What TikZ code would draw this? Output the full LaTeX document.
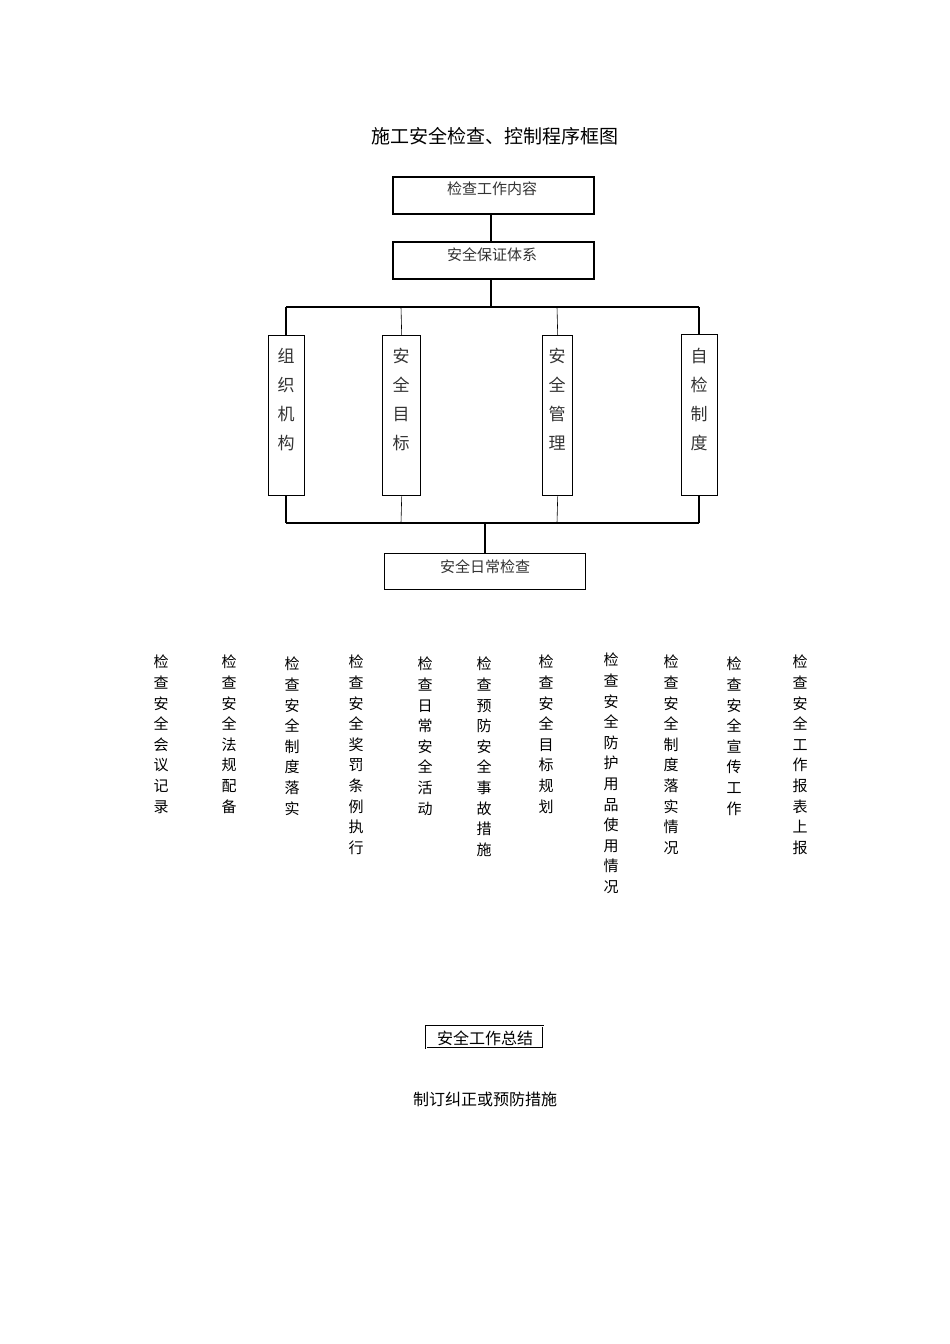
\documentclass[tikz,border=0pt]{standalone}
\usepackage{fontspec}
\setmainfont{Noto Sans CJK SC}
\newfontfamily\cjk{Noto Sans CJK SC}
\begin{document}
\begin{tikzpicture}[x=1pt,y=-1pt,
  box/.style={draw,line width=1.6pt},
  vbox/.style={draw,line width=1.4pt},
  ln/.style={line width=1.4pt},
  tn/.style={line width=0.6pt},
  lbl/.style={font=\fontsize{15}{15}\selectfont\cjk,text=black!80},
  col/.style={font=\fontsize{15}{20.6}\selectfont\cjk,align=center,anchor=north,inner sep=0pt,text width=16pt}]
\useasboundingbox (0,0) rectangle (950,1344);
\node[font=\fontsize{19}{19}\selectfont\cjk] (title) at (495,136) {施工安全检查、控制程序框图};
\node[box,minimum width=201pt,minimum height=37pt,lbl,anchor=north west,text depth=0pt] (a) at (392,176) {};
\node[lbl] at (492,189) {检查工作内容};
\node[box,minimum width=201pt,minimum height=37pt,anchor=north west] (b) at (392,241) {};
\node[lbl] at (492,255) {安全保证体系};
\draw[ln] (a.south -| 491,0) -- (b.north -| 491,0);
\coordinate (t1) at (286,307); \coordinate (t4) at (699,307);
\draw[ln] (b.south -| 491,0) -- (491,307);
\draw[ln] (t1) -- (t4);
\node[vbox,minimum width=36pt,minimum height=160pt,anchor=north west] (c1) at (268,335) {};
\node[vbox,minimum width=38pt,minimum height=160pt,anchor=north west] (c2) at (382,335) {};
\node[vbox,minimum width=30pt,minimum height=160pt,anchor=north west] (c3) at (542,335) {};
\node[vbox,minimum width=36pt,minimum height=161pt,anchor=north west] (c4) at (681,334) {};
\foreach \n/\x/\t in {c1/286/组\\织\\机\\构, c2/401/安\\全\\目\\标, c3/557/安\\全\\管\\理, c4/699/自\\检\\制\\度}{
  \node[font=\fontsize{17}{29}\selectfont\cjk,align=center,anchor=north,text=black!80] at (\x,345) {\t};
}
\draw[ln] (t1) -- (c1.north -| t1);
\draw[tn] (401,307) -- (c2.north);
\draw[tn] (557,307) -- (c3.north);
\draw[ln] (t4) -- (c4.north -| t4);
\coordinate (u1) at (286,523); \coordinate (u4) at (699,523);
\draw[ln] (u1) -- (u4);
\draw[ln] (c1.south -| u1) -- (u1);
\draw[tn] (c2.south) -- (401,523);
\draw[tn] (c3.south) -- (557,523);
\draw[ln] (c4.south -| u4) -- (u4);
\node[draw,line width=0.8pt,minimum width=201pt,minimum height=36pt,anchor=north west] (d) at (384,553) {};
\node[lbl] at (485,567) {安全日常检查};
\draw[ln] (485,523) -- (d.north -| 485,0);
\foreach \x/\y/\t in {
161/655/检\\查\\安\\全\\会\\议\\记\\录,
229/655/检\\查\\安\\全\\法\\规\\配\\备,
292/657/检\\查\\安\\全\\制\\度\\落\\实,
356/655/检\\查\\安\\全\\奖\\罚\\条\\例\\执\\行,
425/657/检\\查\\日\\常\\安\\全\\活\\动,
484/657/检\\查\\预\\防\\安\\全\\事\\故\\措\\施,
546/655/检\\查\\安\\全\\目\\标\\规\\划,
611/653/检\\查\\安\\全\\防\\护\\用\\品\\使\\用\\情\\况,
671/655/检\\查\\安\\全\\制\\度\\落\\实\\情\\况,
734/657/检\\查\\安\\全\\宣\\传\\工\\作,
800/655/检\\查\\安\\全\\工\\作\\报\\表\\上\\报}{
  \node[col] at (\x,\y) {\t};
}
\node[draw,double,double distance=1pt,line width=0.4pt,minimum width=117pt,minimum height=22pt,inner sep=0pt,anchor=north west] (e) at (426,1026) {};
\node[font=\fontsize{16}{16}\selectfont\cjk] at (485,1038) {安全工作总结};
\node[font=\fontsize{16}{16}\selectfont\cjk] (f) at (485,1099) {制订纠正或预防措施};
\end{tikzpicture}
\end{document}
